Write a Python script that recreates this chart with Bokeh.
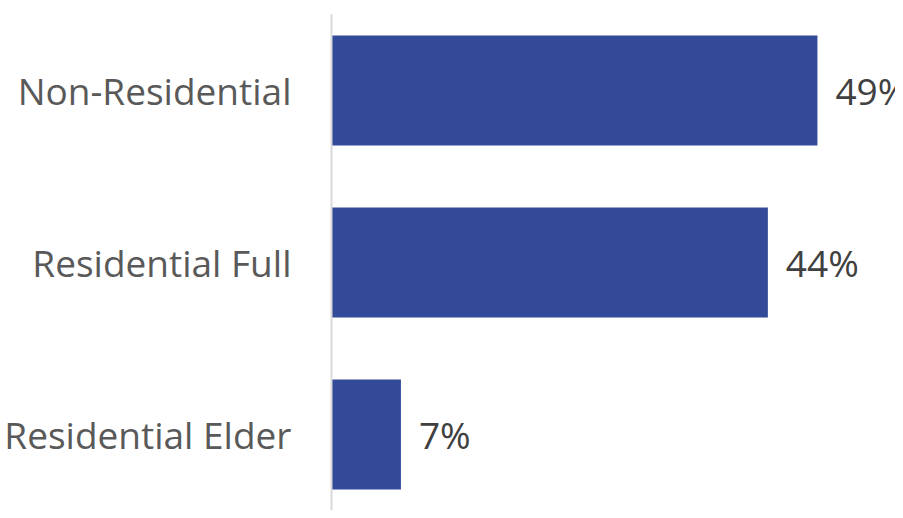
from bokeh.plotting import figure
from bokeh.models import ColumnDataSource, Range1d, FactorRange
from bokeh.core.properties import value
from bokeh.embed import file_html
from bokeh.resources import INLINE

categories = ["Residential Elder", "Residential Full", "Non-Residential"]
shares = [7, 44, 49]
labels = ["7%", "44%", "49%"]

src = ColumnDataSource(dict(cat=categories, val=shares, lab=labels))

p = figure(width=895, height=510, output_backend="svg", toolbar_location=None,
           y_range=FactorRange(factors=categories, range_padding=-0.058,
                               range_padding_units="absolute"),
           x_range=Range1d(0, 56.87),
           min_border_left=331, min_border_right=0, min_border_top=14, min_border_bottom=0)
p.outline_line_color = None
p.xgrid.visible = False
p.ygrid.visible = False
p.xaxis.visible = False
p.background_fill_color = "white"
p.border_fill_color = "white"

p.hbar(y="cat", right="val", left=0, height=0.64, source=src,
       fill_color="#334A98", line_color=None)

p.text(x="val", y="cat", text="lab", source=src, x_offset=18,
       text_align="left", text_baseline="middle",
       text_font=value("Open Sans"), text_font_size="37px", text_color="#404040")

ya = p.yaxis[0]
ya.axis_line_color = "#d9d9d9"
ya.axis_line_width = 2
ya.major_tick_line_color = None
ya.minor_tick_line_color = None
ya.major_label_standoff = 34
ya.major_label_text_font = "Open Sans"
ya.major_label_text_font_size = "37px"
ya.major_label_text_color = "#595959"

open("out.html", "w").write(file_html(p, INLINE))
